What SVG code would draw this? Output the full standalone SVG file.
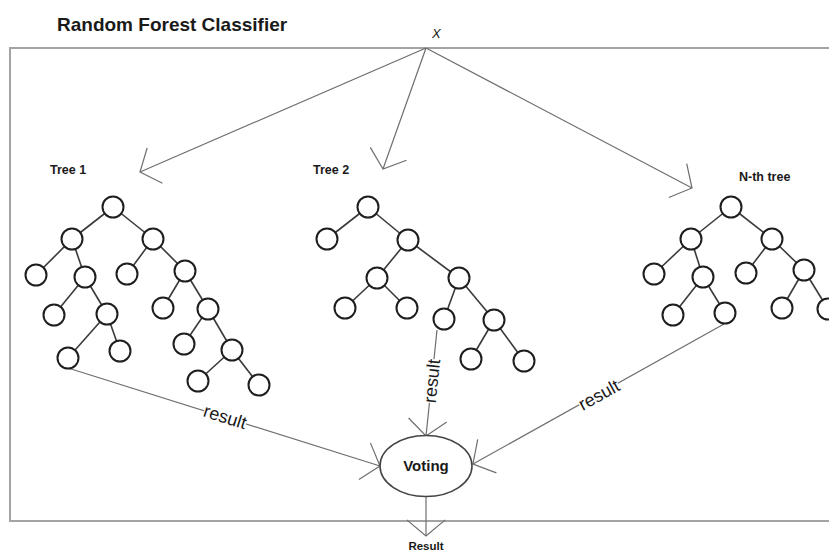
<svg xmlns="http://www.w3.org/2000/svg" width="829" height="551" viewBox="0 0 829 551">
  <style>
    text { font-family: "Liberation Sans", Arial, sans-serif; fill: #1a1a1a; }
    .title { font-size: 19px; font-weight: bold; }
    .lbl { font-size: 12.5px; font-weight: bold; }
    .res { font-size: 18px; text-anchor: middle; }
    .frame { fill: none; stroke: #a3a3a3; stroke-width: 2; }
    .conn { fill: none; stroke: #6e6e6e; stroke-width: 1.2; marker-end: url(#vhead); }
    .edge { stroke: #3a3a3a; stroke-width: 1.6; }
    .nd { fill: #fff; stroke: #1e1e1e; stroke-width: 2; }
    .mask { fill: #fff; }
  </style>
  <defs>
    <marker id="vhead" markerUnits="userSpaceOnUse" viewBox="-20 -22 22 44" refX="0" refY="0" markerWidth="22" markerHeight="44" orient="auto" overflow="visible">
      <path d="M -16.1 -19.2 L 0 0 L -16.1 19.2" fill="none" stroke="#6e6e6e" stroke-width="1.2"/>
    </marker>
  </defs>

  <rect width="829" height="551" fill="#fff"/>

  <!-- outer frame, running past the right edge -->
  <rect class="frame" x="10" y="48" width="840" height="473"/>

  <text class="title" x="57" y="31">Random Forest Classifier</text>

  <g id="input-x">
    <text x="432" y="37.7" font-size="13" font-style="italic">X</text>
  </g>

  <!-- connectors -->
  <g id="connectors">
    <line class="conn" x1="426" y1="48" x2="140" y2="172"/>
    <line class="conn" x1="426" y1="48" x2="383" y2="169"/>
    <line class="conn" x1="426" y1="48" x2="692" y2="188"/>
    <line class="conn" x1="68" y1="368" x2="380" y2="466"/>
    <line class="conn" x1="437" y1="330" x2="426" y2="436"/>
    <line class="conn" x1="724" y1="324" x2="473" y2="464"/>
    <line class="conn" x1="426" y1="497" x2="426" y2="536"/>

    <g transform="translate(225 417) rotate(17.5)">
      <rect class="mask" x="-22" y="-6" width="44" height="11"/>
      <text class="res" y="6">result</text>
    </g>
    <g transform="translate(432 381) rotate(-84)">
      <rect class="mask" x="-22" y="-6" width="44" height="11"/>
      <text class="res" y="6">result</text>
    </g>
    <g transform="translate(599 395) rotate(-29)">
      <rect class="mask" x="-22" y="-6" width="44" height="11"/>
      <text class="res" y="6">result</text>
    </g>
  </g>

  <!-- Tree 1 -->
  <g id="tree1">
    <text class="lbl" x="50" y="173.5">Tree 1</text>
    <g>
      <line class="edge" x1="113" y1="207" x2="72" y2="239"/>
      <line class="edge" x1="113" y1="207" x2="153" y2="239"/>
      <line class="edge" x1="72" y1="239" x2="36" y2="275"/>
      <line class="edge" x1="72" y1="239" x2="85" y2="277"/>
      <line class="edge" x1="153" y1="239" x2="127" y2="274"/>
      <line class="edge" x1="153" y1="239" x2="185" y2="271"/>
      <line class="edge" x1="85" y1="277" x2="54" y2="315"/>
      <line class="edge" x1="85" y1="277" x2="107" y2="314"/>
      <line class="edge" x1="185" y1="271" x2="163" y2="308"/>
      <line class="edge" x1="185" y1="271" x2="208" y2="309"/>
      <line class="edge" x1="107" y1="314" x2="68" y2="358"/>
      <line class="edge" x1="107" y1="314" x2="120" y2="351"/>
      <line class="edge" x1="208" y1="309" x2="184" y2="344"/>
      <line class="edge" x1="208" y1="309" x2="232" y2="350"/>
      <line class="edge" x1="232" y1="350" x2="198" y2="381"/>
      <line class="edge" x1="232" y1="350" x2="259" y2="385"/>
    </g>
    <circle id="t1-n1" class="nd" cx="113" cy="207" r="10.5"/>
    <circle id="t1-n2" class="nd" cx="72" cy="239" r="10.5"/>
    <circle id="t1-n3" class="nd" cx="153" cy="239" r="10.5"/>
    <circle id="t1-n4" class="nd" cx="36" cy="275" r="10.5"/>
    <circle id="t1-n5" class="nd" cx="85" cy="277" r="10.5"/>
    <circle id="t1-n6" class="nd" cx="127" cy="274" r="10.5"/>
    <circle id="t1-n7" class="nd" cx="185" cy="271" r="10.5"/>
    <circle id="t1-n8" class="nd" cx="54" cy="315" r="10.5"/>
    <circle id="t1-n9" class="nd" cx="107" cy="314" r="10.5"/>
    <circle id="t1-n10" class="nd" cx="163" cy="308" r="10.5"/>
    <circle id="t1-n11" class="nd" cx="208" cy="309" r="10.5"/>
    <circle id="t1-n12" class="nd" cx="68" cy="358" r="10.5"/>
    <circle id="t1-n13" class="nd" cx="120" cy="351" r="10.5"/>
    <circle id="t1-n14" class="nd" cx="184" cy="344" r="10.5"/>
    <circle id="t1-n15" class="nd" cx="232" cy="350" r="10.5"/>
    <circle id="t1-n16" class="nd" cx="198" cy="381" r="10.5"/>
    <circle id="t1-n17" class="nd" cx="259" cy="385" r="10.5"/>
  </g>

  <!-- Tree 2 -->
  <g id="tree2">
    <text class="lbl" x="313" y="173.5">Tree 2</text>
    <g>
      <line class="edge" x1="368" y1="207" x2="327" y2="239"/>
      <line class="edge" x1="368" y1="207" x2="408" y2="240"/>
      <line class="edge" x1="408" y1="240" x2="377" y2="278"/>
      <line class="edge" x1="408" y1="240" x2="459" y2="278"/>
      <line class="edge" x1="377" y1="278" x2="345" y2="308"/>
      <line class="edge" x1="377" y1="278" x2="407" y2="308"/>
      <line class="edge" x1="459" y1="278" x2="444" y2="319"/>
      <line class="edge" x1="459" y1="278" x2="494" y2="320"/>
      <line class="edge" x1="494" y1="320" x2="471" y2="359"/>
      <line class="edge" x1="494" y1="320" x2="524" y2="361"/>
    </g>
    <circle id="t2-n1" class="nd" cx="368" cy="207" r="10.5"/>
    <circle id="t2-n2" class="nd" cx="327" cy="239" r="10.5"/>
    <circle id="t2-n3" class="nd" cx="408" cy="240" r="10.5"/>
    <circle id="t2-n4" class="nd" cx="377" cy="278" r="10.5"/>
    <circle id="t2-n5" class="nd" cx="459" cy="278" r="10.5"/>
    <circle id="t2-n6" class="nd" cx="345" cy="308" r="10.5"/>
    <circle id="t2-n7" class="nd" cx="407" cy="308" r="10.5"/>
    <circle id="t2-n8" class="nd" cx="444" cy="319" r="10.5"/>
    <circle id="t2-n9" class="nd" cx="494" cy="320" r="10.5"/>
    <circle id="t2-n10" class="nd" cx="471" cy="359" r="10.5"/>
    <circle id="t2-n11" class="nd" cx="524" cy="361" r="10.5"/>
  </g>

  <!-- N-th tree -->
  <g id="tree-n">
    <text class="lbl" x="739" y="181">N-th tree</text>
    <g>
      <line class="edge" x1="731" y1="207" x2="691" y2="239"/>
      <line class="edge" x1="731" y1="207" x2="772" y2="239"/>
      <line class="edge" x1="691" y1="239" x2="654" y2="274"/>
      <line class="edge" x1="691" y1="239" x2="703" y2="277"/>
      <line class="edge" x1="772" y1="239" x2="746" y2="273"/>
      <line class="edge" x1="772" y1="239" x2="804" y2="270"/>
      <line class="edge" x1="703" y1="277" x2="673" y2="315"/>
      <line class="edge" x1="703" y1="277" x2="725" y2="313"/>
      <line class="edge" x1="804" y1="270" x2="782" y2="308"/>
      <line class="edge" x1="804" y1="270" x2="828" y2="309"/>
    </g>
    <circle id="tn-n1" class="nd" cx="731" cy="207" r="10.5"/>
    <circle id="tn-n2" class="nd" cx="691" cy="239" r="10.5"/>
    <circle id="tn-n3" class="nd" cx="772" cy="239" r="10.5"/>
    <circle id="tn-n4" class="nd" cx="654" cy="274" r="10.5"/>
    <circle id="tn-n5" class="nd" cx="703" cy="277" r="10.5"/>
    <circle id="tn-n6" class="nd" cx="746" cy="273" r="10.5"/>
    <circle id="tn-n7" class="nd" cx="804" cy="270" r="10.5"/>
    <circle id="tn-n8" class="nd" cx="673" cy="315" r="10.5"/>
    <circle id="tn-n9" class="nd" cx="725" cy="313" r="10.5"/>
    <circle id="tn-n10" class="nd" cx="782" cy="308" r="10.5"/>
    <circle id="tn-n11" class="nd" cx="828" cy="309" r="10.5"/>
  </g>

  <!-- Voting node -->
  <g id="voting">
    <ellipse cx="426" cy="466" rx="46" ry="30.5" fill="#fff" stroke="#444" stroke-width="1.6"/>
    <text x="426" y="470.7" font-size="15" font-weight="bold" text-anchor="middle">Voting</text>
  </g>

  <g id="result">
    <text x="426" y="550" font-size="11.5" font-weight="bold" text-anchor="middle">Result</text>
  </g>
</svg>
